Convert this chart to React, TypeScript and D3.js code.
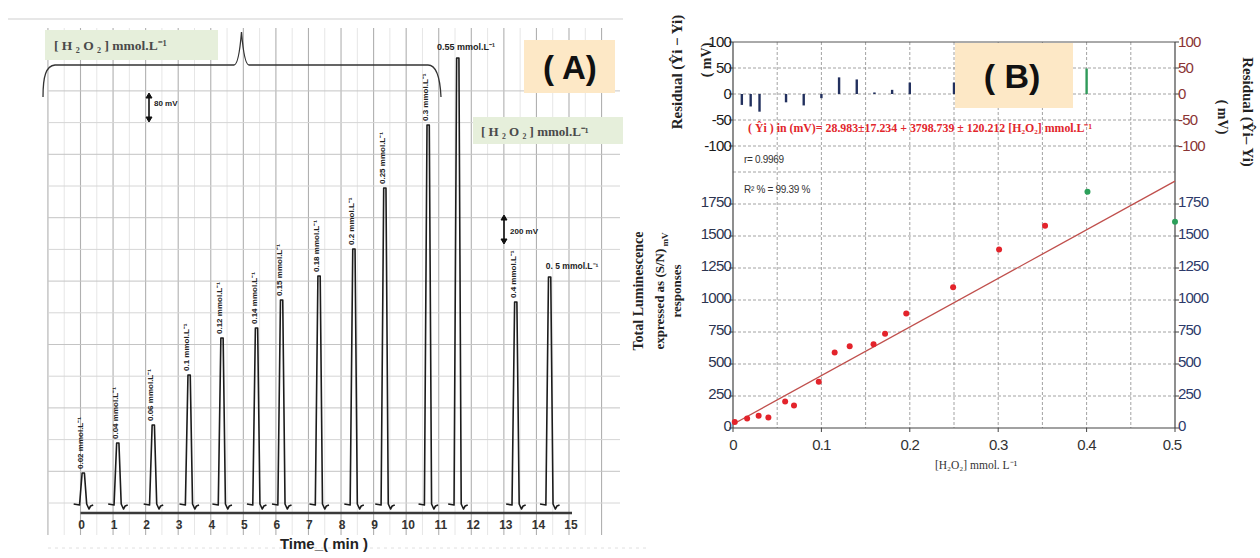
import React from "react";
import * as d3 from "d3";

const W = 1260;
const H = 558;
const SANS = "'Liberation Sans', Arial, sans-serif";
const SERIF = "'Liberation Serif', 'Times New Roman', serif";

// ---- panel A : chromatogram ----
const peakLabels = [
  "0.02 mmol.L⁻¹", "0.04 mmol.L⁻¹", "0.06 mmol.L⁻¹", "0.1 mmol.L⁻¹",
  "0.12 mmol.L⁻¹", "0.14 mmol.L⁻¹", "0.15 mmol.L⁻¹", "0.18 mmol.L⁻¹",
  "0.2 mmol.L⁻¹", "0.25 mmol.L⁻¹", "0.3 mmol.L⁻¹", "0.55 mmol.L⁻¹",
  "0.4 mmol.L⁻¹", "0. 5 mmol.L⁻¹",
];
const peakTimes = [0.09, 1.15, 2.24, 3.34, 4.35, 5.41, 6.18, 7.33, 8.4, 9.35, 10.68, 11.59, 13.37, 14.41];
const peakHeights = [32, 62, 80, 130, 167, 177, 205, 229, 256, 317, 380, 447, 203, 228];
const timeTicks = d3.range(0, 16);

// ---- panel B : calibration ----
const calConc = [0.002, 0.016, 0.029, 0.04, 0.059, 0.069, 0.097, 0.115, 0.132, 0.159, 0.172, 0.196, 0.249, 0.301, 0.353];
const calResp = [47, 74, 95, 82, 208, 176, 361, 589, 639, 655, 737, 895, 1100, 1395, 1580];
const outConc = [0.401, 0.5];
const outResp = [1845, 1612];
const resConc = [0.01, 0.02, 0.03, 0.06, 0.08, 0.1, 0.12, 0.14, 0.16, 0.18, 0.2, 0.25];
const resVals = [-21, -24, -34, -16, -22, -8, 32, 28, 3, 8, 22, 22];
const outResConc = [0.4];
const outResVals = [49];
const intercept = 28.983;
const slope = 3798.739;
const resTicks = [-100, -50, 0, 50, 100];
const respTicks = [0, 250, 500, 750, 1000, 1250, 1500, 1750];
const concTicks = [0, 0.1, 0.2, 0.3, 0.4, 0.5];

function Arrow({ x, y1, y2 }) {
  return (
    <g fill="#111" stroke="#111">
      <line x1={x} x2={x} y1={y1 + 4} y2={y2 - 4} strokeWidth={1.6} />
      <path d={`M${x - 3},${y1 + 5}L${x},${y1}L${x + 3},${y1 + 5}Z`} />
      <path d={`M${x - 3},${y2 - 5}L${x},${y2}L${x + 3},${y2 - 5}Z`} />
    </g>
  );
}

function PanelA() {
  const x = d3.scaleLinear().domain([0, 15]).range([80.5, 569]);
  const y = d3.scaleLinear().domain([0, 450]).range([505, 55]);
  const vLines = d3.range(-1, 17).map((k) => x(k));
  const vMinor = d3.range(-1, 16).map((k) => x(k + 0.5));
  const hLines = d3.range(0, 14).map((k) => y(2 + 31.7 * k));

  const peakLine = d3
    .line<[number, number]>()
    .x((d) => x(d[0]))
    .y((d) => y(d[1]));

  // simple peak outline: baseline stub, rise, apex, fall, small tailing dip
  const peakPath = (t: number, h: number) =>
    peakLine([
      [t - 0.3, 1],
      [t - 0.12, 0],
      [t - 0.04, h],
      [t + 0.03, h],
      [t + 0.1, 1],
      [t + 0.17, -4],
      [t + 0.22, -1],
      [t + 0.3, 0],
    ]);

  const horiz: Record<number, number> = { 11: -21, 13: -4 };

  return (
    <g>
      <line x1={8} x2={623} y1={19} y2={19} stroke="#cfcfcf" />
      {/* chart paper grid */}
      {vMinor.map((v, i) => (
        <line key={"m" + i} x1={v} x2={v} y1={28} y2={535} stroke="#e6e6e6" />
      ))}
      {vLines.map((v, i) => (
        <line key={"v" + i} x1={v} x2={v} y1={28} y2={535} stroke="#b0b0b0" strokeWidth={1.1} />
      ))}
      {hLines.map((v, i) => (
        <line key={"h" + i} x1={48} x2={620} y1={v} y2={v} stroke={i % 2 ? "#c4c4c4" : "#d6d6d6"} />
      ))}
      <line x1={48} x2={650} y1={548} y2={548} stroke="#e0e0e0" strokeDasharray="3,4" />

      {/* brace */}
      <path
        d="M43,97C43,76 46,66 55,65L234,65C238,65 240,50 241.5,32C243,50 245,65 249,65L428,65C436,65 440,76 441,97"
        fill="none"
        stroke="#333"
        strokeWidth={1.3}
      />

      {/* peaks */}
      {peakTimes.map((t, i) => (
        <path
          key={"p" + i}
          d={peakPath(t, peakHeights[i]) || ""}
          fill="none"
          stroke="#1c1c1c"
          strokeWidth={1.6}
          strokeLinejoin="round"
        />
      ))}
      {peakTimes.map((t, i) => {
        const px = x(t);
        const top = y(peakHeights[i]);
        if (horiz[i] !== undefined) {
          return (
            <text key={"l" + i} x={px + horiz[i]} y={top - 8} fontFamily={SANS} fontWeight="bold" fontSize={i === 11 ? 9 : 8.5} fill="#222">
              {peakLabels[i]}
            </text>
          );
        }
        return (
          <text
            key={"l" + i}
            transform={`translate(${px},${top - 4}) rotate(-90)`}
            fontFamily={SANS}
            fontWeight="bold"
            fontSize={8}
            fill="#222"
          >
            {peakLabels[i]}
          </text>
        );
      })}

      {/* time axis */}
      <line x1={x(0)} x2={x(15) + 3} y1={513} y2={513} stroke="#3a3a3a" strokeWidth={2.6} />
      {timeTicks.map((t) => (
        <text key={"t" + t} x={x(t) + (t >= 10 ? 2 : 1)} y={529} textAnchor="middle" fontFamily={SANS} fontWeight="bold" fontSize={12} fill="#333">
          {t}
        </text>
      ))}
      <text x={324} y={549} textAnchor="middle" fontFamily={SANS} fontWeight="bold" fontSize={15} fill="#222">
        Time_( min )
      </text>

      {/* annotation boxes */}
      <rect x={45} y={30} width={173} height={30} fill="#e6efdb" />
      <text x={54} y={50} fontFamily={SERIF} fontWeight="bold" fontSize={13.5} fill="#4a4a4a">
        [ H ₂ O ₂ ] mmol.L⁻¹
      </text>
      <rect x={473} y={117} width={150} height={27} fill="#e6efdb" />
      <text x={481} y={136} fontFamily={SERIF} fontWeight="bold" fontSize={13} fill="#4a4a4a">
        [ H ₂ O ₂ ] mmol.L⁻¹
      </text>
      <rect x={524} y={40} width={91} height={53} fill="#fde8c6" />
      <text x={570} y={79} textAnchor="middle" fontFamily={SANS} fontWeight="bold" fontSize={33} fill="#111">
        ( A)
      </text>

      <Arrow x={149} y1={93} y2={122} />
      <text x={154} y={106} fontFamily={SANS} fontWeight="bold" fontSize={8} fill="#222">
        80 mV
      </text>
      <Arrow x={504} y1={215} y2={244} />
      <text x={510} y={234} fontFamily={SANS} fontWeight="bold" fontSize={8} fill="#222">
        200 mV
      </text>
    </g>
  );
}

function PanelB() {
  const x = d3.scaleLinear().domain([0, 0.5]).range([733, 1175]);
  const yRes = d3.scaleLinear().domain([-150, 100]).range([172, 42]);
  const yMain = d3.scaleLinear().domain([0, 2000]).range([428, 172]);
  const vGrid = d3.range(1, 10).map((k) => k * 0.05);
  const fit = d3
    .line<number>()
    .x((c) => x(c))
    .y((c) => yMain(intercept + slope * c));
  const tickFont = { fontFamily: SANS, fontSize: 15, letterSpacing: -0.8 };

  return (
    <g>
      {/* grid */}
      {vGrid.map((c, i) => (
        <line key={"vg" + i} x1={x(c)} x2={x(c)} y1={42} y2={428} stroke="#8a8a8a" strokeDasharray="3,2" strokeWidth={0.8} />
      ))}
      {[-150, -100, -50, 0, 50].map((r) => (
        <line key={"rg" + r} x1={733} x2={1175} y1={yRes(r)} y2={yRes(r)} stroke="#8a8a8a" strokeDasharray="3,2" strokeWidth={0.8} />
      ))}
      {respTicks.slice(1).map((r) => (
        <line key={"mg" + r} x1={733} x2={1175} y1={yMain(r)} y2={yMain(r)} stroke="#8a8a8a" strokeDasharray="3,2" strokeWidth={0.8} />
      ))}

      {/* frame */}
      <line x1={733} x2={1175} y1={42} y2={42} stroke="#555" />
      <line x1={733} x2={733} y1={42} y2={428} stroke="#444" strokeWidth={1.2} />
      <line x1={1175} x2={1175} y1={42} y2={428} stroke="#444" strokeWidth={1.2} />
      <line x1={733} x2={1175} y1={428} y2={428} stroke="#444" strokeWidth={1.2} />

      {/* residual bars */}
      {resConc.map((c, i) => (
        <line key={"rb" + i} x1={x(c)} x2={x(c)} y1={yRes(0)} y2={yRes(resVals[i])} stroke="#22305e" strokeWidth={2.4} />
      ))}
      {outResConc.map((c, i) => (
        <line key={"ob" + i} x1={x(c)} x2={x(c)} y1={yRes(0)} y2={yRes(outResVals[i])} stroke="#2f9a5a" strokeWidth={2.4} />
      ))}

      {/* fit line and points */}
      <path d={fit([0, 0.5]) || ""} fill="none" stroke="#c0504d" strokeWidth={1.3} />
      {calConc.map((c, i) => (
        <circle key={"c" + i} cx={x(c)} cy={yMain(calResp[i])} r={3} fill="#e3232b" />
      ))}
      {outConc.map((c, i) => (
        <circle key={"o" + i} cx={x(c)} cy={yMain(outResp[i])} r={3} fill="#2ca05a" />
      ))}

      {/* left / right ticks */}
      {resTicks.map((r) => (
        <g key={"rt" + r}>
          <line x1={729} x2={733} y1={yRes(r)} y2={yRes(r)} stroke="#444" />
          <text x={731} y={yRes(r)} dy="0.35em" textAnchor="end" {...tickFont} fill="#1a1a1a">{r}</text>
          <line x1={1175} x2={1179} y1={yRes(r)} y2={yRes(r)} stroke="#444" />
          <text x={1178} y={yRes(r)} dy="0.35em" {...tickFont} fill="#8a3434">{r}</text>
        </g>
      ))}
      {respTicks.map((r) => (
        <g key={"mt" + r}>
          <line x1={729} x2={733} y1={yMain(r)} y2={yMain(r)} stroke="#444" />
          <text x={731} y={yMain(r) - 2} dy="0.35em" textAnchor="end" {...tickFont} fill="#2c3450">{r}</text>
          <line x1={1175} x2={1179} y1={yMain(r)} y2={yMain(r)} stroke="#444" />
          <text x={1178} y={yMain(r) - 2} dy="0.35em" {...tickFont} fill="#2c3a6a">{r}</text>
        </g>
      ))}
      {concTicks.map((c) => (
        <g key={"xt" + c}>
          <line x1={x(c)} x2={x(c)} y1={428} y2={432} stroke="#444" />
          <text x={x(c) - (c === 0.5 ? 3 : 0)} y={450} textAnchor="middle" {...tickFont} fill="#333">{c}</text>
        </g>
      ))}

      {/* annotations */}
      <rect x={955} y={43} width={118} height={65} fill="#fde8c6" />
      <text x={1012} y={88} textAnchor="middle" fontFamily={SANS} fontWeight="bold" fontSize={34} fill="#111">
        ( B)
      </text>
      <text x={748} y={132} fontFamily={SERIF} fontWeight="bold" fontSize={12} fill="#e2262c" textLength={344} lengthAdjust="spacingAndGlyphs">
        ( Ŷi ) in (mV)= 28.983±17.234 + 3798.739 ± 120.212  [H₂O₂] mmol.L⁻¹
      </text>
      <text x={744} y={163} fontFamily={SANS} fontSize={10} fill="#333" letterSpacing={-0.3}>r= 0.9969</text>
      <text x={744} y={193} fontFamily={SANS} fontSize={10} fill="#333" letterSpacing={-0.3}>
        R² % = 99.39 %
      </text>

      {/* axis titles */}
      <text transform="translate(682,72) rotate(-90)" textAnchor="middle" fontFamily={SERIF} fontWeight="bold" fontSize={15} fill="#222">
        Residual (Ŷi − Yi)
      </text>
      <text transform="translate(711,60) rotate(-90)" textAnchor="middle" fontFamily={SERIF} fontWeight="bold" fontSize={14} fill="#222">
        ( mV)
      </text>
      <text transform="translate(1243,112) rotate(90)" textAnchor="middle" fontFamily={SERIF} fontWeight="bold" fontSize={15} fill="#222">
        Residual (Ŷi– Yi)
      </text>
      <text transform="translate(1218,117) rotate(90)" textAnchor="middle" fontFamily={SERIF} fontWeight="bold" fontSize={14} fill="#222">
        ( mV)
      </text>
      <text transform="translate(643,291) rotate(-90)" textAnchor="middle" fontFamily={SERIF} fontWeight="bold" fontSize={14} fill="#222">
        Total Luminescence
      </text>
      <text transform="translate(664,291) rotate(-90)" textAnchor="middle" fontFamily={SERIF} fontWeight="bold" fontSize={13} fill="#222">
        expressed as (S/N)
        <tspan fontSize={9} dy={4}> mV</tspan>
      </text>
      <text transform="translate(681,291) rotate(-90)" textAnchor="middle" fontFamily={SERIF} fontWeight="bold" fontSize={13} fill="#222">
        responses
      </text>
      <text x={976} y={469} textAnchor="middle" fontFamily={SERIF} fontSize={11.5} fill="#333">
        [H₂O₂] mmol. L⁻¹
      </text>
    </g>
  );
}

export default function App() {
  return (
    <svg
      width={W}
      height={H}
      viewBox={`0 0 ${W} ${H}`}
      style={{ position: "absolute", left: 0, top: 0, background: "#fff" }}
    >
      <rect width={W} height={H} fill="#fff" />
      <PanelA />
      <PanelB />
    </svg>
  );
}
